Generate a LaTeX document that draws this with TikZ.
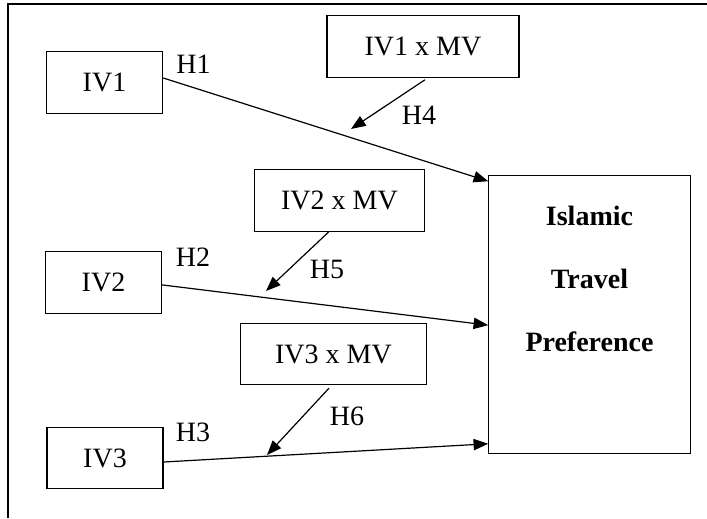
\documentclass[tikz,border=0pt]{standalone}
\usepackage{fontspec}
\setmainfont{Liberation Serif}
\usepackage{tikz}
\usetikzlibrary{arrows.meta,positioning}

\begin{document}
\begin{tikzpicture}[x=0.75pt,y=-0.75pt,
  ivbox/.style={rectangle,draw=black,line width=0.9pt,inner sep=0pt,
    minimum width=87pt,minimum height=46pt},
  mvbox/.style={rectangle,draw=black,line width=0.9pt,inner sep=0pt,minimum height=46pt},
  dvbox/.style={rectangle,draw=black,line width=0.9pt,inner sep=0pt,
    minimum width=151pt,minimum height=208pt},
  dvtext/.style={align=center,inner sep=0pt,font=\fontsize{21}{47}\selectfont\bfseries},
  hlabel/.style={inner sep=0pt},
  hyp/.style={-{Triangle[length=11pt,width=8.5pt]},line width=0.9pt},
  every node/.style={font=\fontsize{21}{25}\selectfont}
]
\useasboundingbox (0,0) rectangle (707,518);
% outer frame
\draw[line width=0.9pt] (8,518) |- (707,4);

\node[ivbox] (iv1) at (104.5,82.5) {IV1};
\node[ivbox] (iv2) at (103.5,282.5) {IV2};
\node[ivbox] (iv3) at (105,458) {IV3};
\node[mvbox,minimum width=144pt] (m1box) at (423,46.5) {IV1 x MV};
\node[mvbox,minimum width=128pt] (m2box) at (339.5,200.5) {IV2 x MV};
\node[mvbox,minimum width=139pt] (m3box) at (333.5,354) {IV3 x MV};
\node[dvbox] (dv) at (589.5,314.5) {};
\node[dvtext] (dvlbl) at (589.5,279) {Islamic\\Travel\\Preference};

% direct effects
\draw[hyp] ([yshift=3.4pt]iv1.east) -- ([yshift=-4.5pt]dv.north west);
\draw[hyp] ([yshift=-1.8pt]iv2.east) -- ([yshift=-8pt]dv.west);
\draw[hyp] ([yshift=-3pt]iv3.east) -- ([yshift=7.5pt]dv.south west);

% moderation
\coordinate (t4) at (351,129);
\coordinate (t5) at (266,291);
\coordinate (t6) at (267,455);
\draw[hyp] ([xshift=1.5pt,yshift=-1.5pt]m1box.south) -- (t4);
\draw[hyp] ([xshift=-8pt]m2box.south) -- (t5);
\draw[hyp] ([xshift=-3.4pt,yshift=-2.2pt]m3box.south) -- (t6);

\node[hlabel] (h1) at (193.5,64.5) {H1};
\node[hlabel] (h2) at (193,257) {H2};
\node[hlabel] (h3) at (193,432) {H3};
\node[hlabel] (h4) at (419,115) {H4};
\node[hlabel] (h5) at (327,269) {H5};
\node[hlabel] (h6) at (347,416) {H6};
\end{tikzpicture}
\end{document}
